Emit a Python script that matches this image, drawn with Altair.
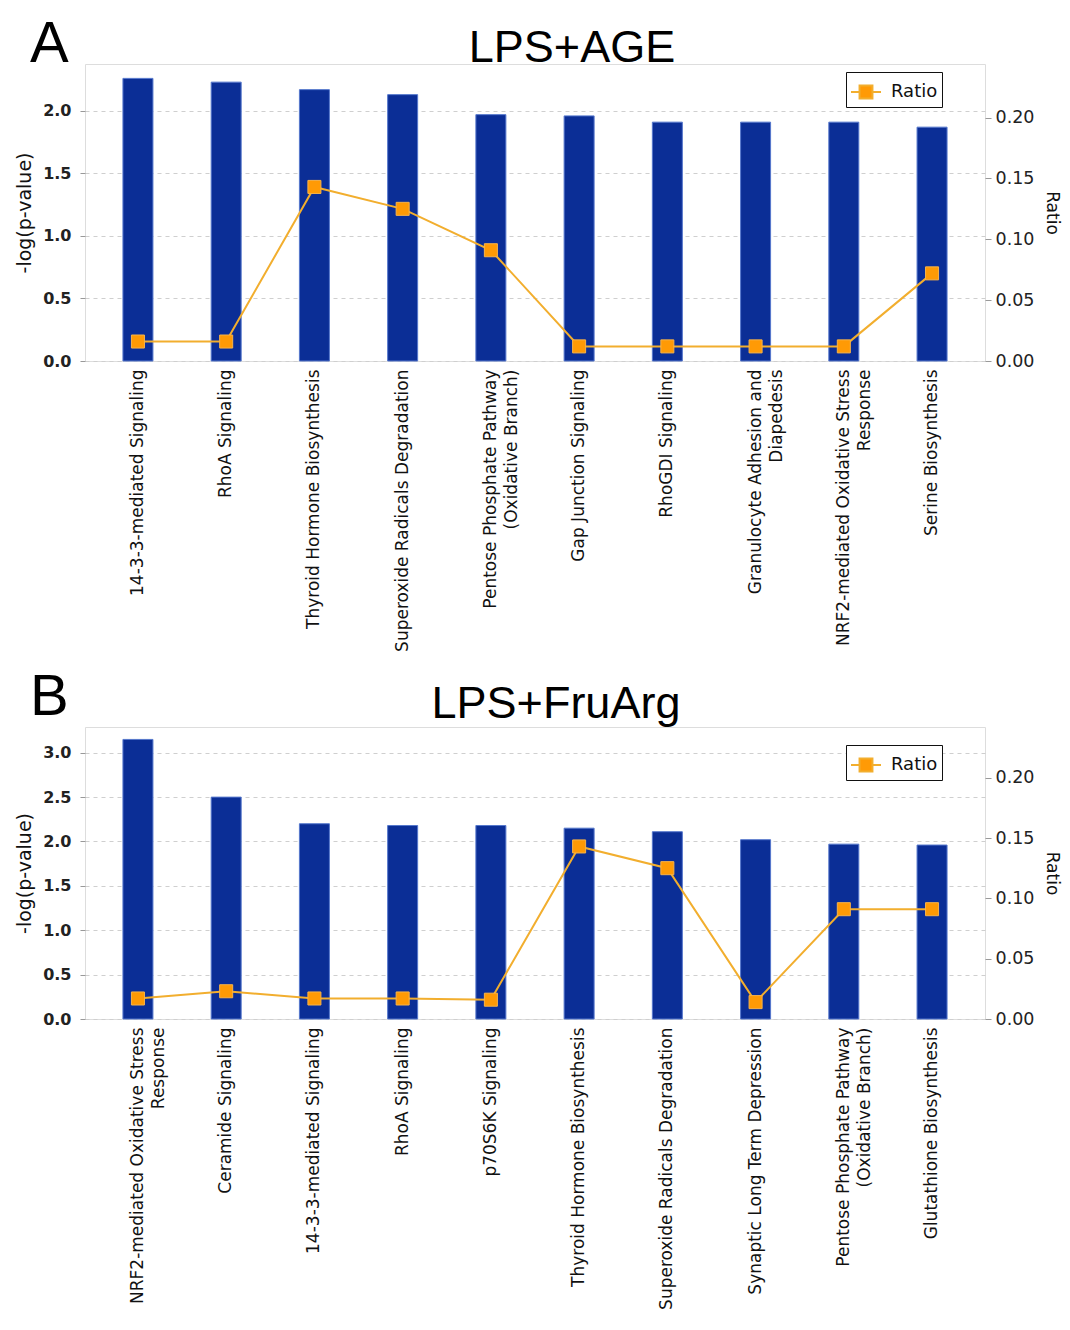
import altair as alt
import pandas as pd

# ---------------- data ----------------
A_pathways = [
    "14-3-3-mediated Signaling",
    "RhoA Signaling",
    "Thyroid Hormone Biosynthesis",
    "Superoxide Radicals Degradation",
    "Pentose Phosphate Pathway|(Oxidative Branch)",
    "Gap Junction Signaling",
    "RhoGDI Signaling",
    "Granulocyte Adhesion and|Diapedesis",
    "NRF2-mediated Oxidative Stress|Response",
    "Serine Biosynthesis",
]
A_logp = [2.26, 2.23, 2.17, 2.13, 1.97, 1.96, 1.91, 1.91, 1.91, 1.87]
A_ratio = [0.016, 0.016, 0.143, 0.125, 0.091, 0.012, 0.012, 0.012, 0.012, 0.072]

B_pathways = [
    "NRF2-mediated Oxidative Stress|Response",
    "Ceramide Signaling",
    "14-3-3-mediated Signaling",
    "RhoA Signaling",
    "p70S6K Signaling",
    "Thyroid Hormone Biosynthesis",
    "Superoxide Radicals Degradation",
    "Synaptic Long Term Depression",
    "Pentose Phosphate Pathway|(Oxidative Branch)",
    "Glutathione Biosynthesis",
]
B_logp = [3.15, 2.50, 2.20, 2.18, 2.18, 2.15, 2.11, 2.02, 1.97, 1.96]
B_ratio = [0.017, 0.023, 0.017, 0.017, 0.016, 0.143, 0.125, 0.014, 0.091, 0.091]

A_left_ticks = [0.0, 0.5, 1.0, 1.5, 2.0]
B_left_ticks = [0.0, 0.5, 1.0, 1.5, 2.0, 2.5, 3.0]
right_ticks = [0.0, 0.05, 0.10, 0.15, 0.20]

BAR_FILL = "#0B2E96"
BAR_EDGE = "#5577CC"
PT_FILL = "#FF9A05"
LINE_COL = "#F2AE2E"
LABEL_FONT = "DejaVu Sans"
TITLE_FONT = "Liberation Sans, Arial"

SYMBOL = "M-1,0H-0.43M0.43,0H1M-0.43,-0.43H0.43V0.43H-0.43Z"


def panel(paths, logp, ratio, left_dom, left_ticks, right_dom, title, title_x,
          title_y, letter, letter_y, legend_y, height):
    df = pd.DataFrame({
        "pathway": paths,
        "logp": logp,
        "ratio": ratio,
        "series": ["Ratio"] * len(paths),
    })
    x = alt.X(
        "pathway:N",
        sort=paths,
        title=None,
        scale=alt.Scale(paddingInner=0, paddingOuter=0.1),
        axis=alt.Axis(
            labelAngle=-90,
            labelExpr="split(datum.value, '|')",
            labelFont=LABEL_FONT,
            labelFontSize=17,
            labelColor="#111",
            labelLimit=0,
            labelPadding=8,
            labelLineHeight=21,
            ticks=False,
            domain=False,
        ),
    )
    base = alt.Chart(df)
    bars = base.mark_bar(size=30, fill=BAR_FILL, stroke=BAR_EDGE, strokeWidth=1).encode(
        x=x,
        y=alt.Y(
            "logp:Q",
            scale=alt.Scale(domain=left_dom, nice=False, zero=True),
            axis=alt.Axis(
                title="-log(p-value)",
                titleFont=LABEL_FONT,
                titleFontSize=19,
                titleFontWeight="normal",
                titleColor="#111",
                titlePadding=8,
                values=left_ticks,
                format=".1f",
                labelFont=LABEL_FONT,
                labelFontSize=16,
                labelFontWeight="bold",
                labelColor="#222",
                labelPadding=9,
                grid=True,
                gridColor="#cfcfcf",
                gridDash=[4, 4],
                gridWidth=1.2,
                tickColor="#999",
                tickSize=5,
                domain=False,
            ),
        ),
    )
    y_ratio = alt.Y(
        "ratio:Q",
        scale=alt.Scale(domain=right_dom, nice=False, zero=True),
        axis=alt.Axis(
            orient="right",
            title="Ratio",
            titleAngle=90,
            titleFont=LABEL_FONT,
            titleFontSize=17,
            titleFontWeight="normal",
            titleColor="#111",
            titlePadding=9,
            values=right_ticks,
            format=".2f",
            labelFont=LABEL_FONT,
            labelFontSize=17.5,
            labelColor="#222",
            labelPadding=4,
            grid=False,
            tickColor="#999",
            tickSize=6,
            domain=False,
        ),
    )
    line = base.mark_line(color=LINE_COL, strokeWidth=2).encode(x=x, y=y_ratio)
    points = base.mark_point(shape="square", filled=True, size=170, opacity=1,
                             stroke="#F7B34A", strokeWidth=1).encode(
        x=x,
        y=y_ratio,
        color=alt.Color(
            "series:N",
            scale=alt.Scale(domain=["Ratio"], range=[PT_FILL]),
            legend=alt.Legend(
                title=None,
                orient="none",
                legendX=761,
                legendY=legend_y,
                symbolType=SYMBOL,
                symbolSize=900,
                symbolStrokeColor=LINE_COL,
                symbolStrokeWidth=2,
                symbolFillColor=PT_FILL,
                labelFont=LABEL_FONT,
                labelFontSize=18,
                labelColor="#111",
                padding=4,
                strokeColor="#111",
                fillColor="white",
                cornerRadius=0,
                labelOffset=9,
            ),
        ),
    )
    ratio_layer = alt.layer(line, points)

    txt_df = pd.DataFrame({"t": [title], "l": [letter]})
    title_mark = alt.Chart(txt_df).mark_text(
        font=TITLE_FONT, fontSize=45, align="center", baseline="alphabetic", color="black"
    ).encode(text="t:N", x=alt.value(title_x), y=alt.value(title_y))
    letter_mark = alt.Chart(txt_df).mark_text(
        font="Liberation Sans", fontSize=58, align="left", baseline="alphabetic", color="black"
    ).encode(text="l:N", x=alt.value(-55), y=alt.value(letter_y))

    return alt.layer(bars, ratio_layer, title_mark, letter_mark).resolve_scale(
        y="independent"
    ).properties(width=900, height=height)


pA = panel(A_pathways, A_logp, A_ratio, [0, 2.375], A_left_ticks, [0, 0.244],
           "LPS+AGE", 487, -2, "A", -2, 8, 297)
pB = panel(B_pathways, B_logp, B_ratio, [0, 3.29], B_left_ticks, [0, 0.242],
           "LPS+FruArg", 471, -9, "B", -12, 18, 292)

chart = alt.vconcat(pA, pB, spacing=16).resolve_scale(
    color="independent"
).resolve_legend(
    color="independent"
).configure_view(
    stroke="#9a9a9a", strokeWidth=1.5
).configure(background="white", padding={"left": 7, "top": 7, "right": 0, "bottom": 0})

chart.save("out.html", embed_options={"renderer": "svg", "actions": False})
